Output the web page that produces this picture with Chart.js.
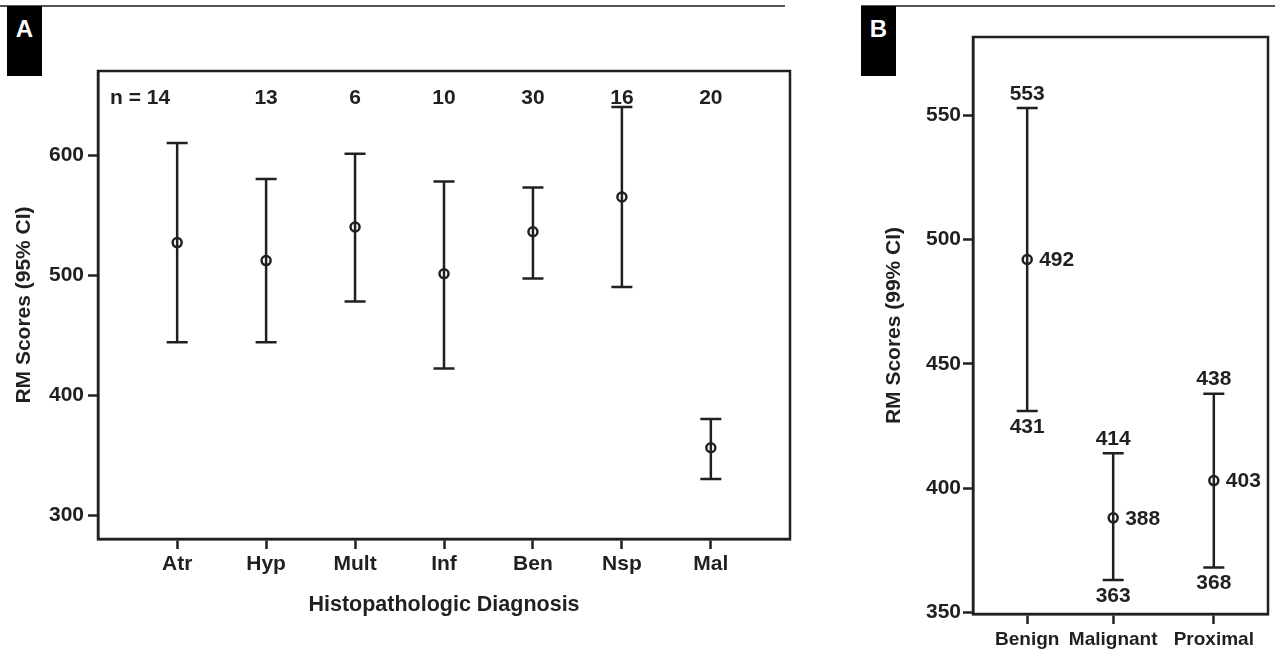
<!DOCTYPE html>
<html>
<head>
<meta charset="utf-8">
<script src="https://cdn.jsdelivr.net/npm/chart.js@4.4.1/dist/chart.umd.min.js"></script>
<style>
  body { margin: 0; background: #fff; width: 1275px; height: 652px; position: relative; overflow: hidden; font-family: "Liberation Sans", Arial, sans-serif; }
  .rule { position: absolute; top: 5px; height: 2px; background: #555; }
  .tag { position: absolute; top: 6px; width: 35px; height: 70px; background: #000; color: #fff; font-weight: bold; font-size: 24px; text-align: center; line-height: 45px; }
  canvas { position: absolute; top: 0; }
</style>
</head>
<body>
<div class="rule" style="left:0;width:785px"></div>
<div class="rule" style="left:861px;width:414px"></div>
<div class="tag" style="left:7px">A</div>
<div class="tag" style="left:861px">B</div>
<canvas id="chartA" width="800" height="652" style="left:0"></canvas>
<canvas id="chartB" width="455" height="652" style="left:820px"></canvas>
<script>
// Panel A: RM scores by histopathologic diagnosis (95% CI)
const aCategories = ['Atr', 'Hyp', 'Mult', 'Inf', 'Ben', 'Nsp', 'Mal'];
const aCounts = [14, 13, 6, 10, 30, 16, 20];
const aMeans = [527, 512, 540, 501, 536, 565, 356];
const aLower = [444, 444, 478, 422, 497, 490, 330];
const aUpper = [610, 580, 601, 578, 573, 640, 380];
const aYTicks = [300, 400, 500, 600];

// Panel B: RM scores by group (99% CI)
const bCategories = ['Benign', 'Malignant', 'Proximal'];
const bPositions = [0, 1, 2.17];
const bMeans = [492, 388, 403];
const bLower = [431, 363, 368];
const bUpper = [553, 414, 438];
const bYTicks = [350, 400, 450, 500, 550];

const ink = '#231f20';
const family = '"Liberation Sans", Arial, sans-serif';
const font = { family, size: 21, weight: 'bold' };
const titleFontA = { family, size: 21.5, weight: 'bold' };
const catFontB = { family, size: 19, weight: 'bold' };

// vertical CI lines with caps, drawn under the mean circles
const errorBars = {
    id: 'errorBars',
    beforeDatasetsDraw(chart) {
        const { ctx, scales: { x, y } } = chart;
        const cap = 10.5;
        ctx.save();
        ctx.strokeStyle = ink;
        ctx.lineWidth = 2.5;
        chart.data.datasets[0].data.forEach(p => {
            const px = x.getPixelForValue(p.x);
            const top = y.getPixelForValue(p.yMax);
            const bot = y.getPixelForValue(p.yMin);
            ctx.beginPath();
            ctx.moveTo(px, top); ctx.lineTo(px, bot);
            ctx.moveTo(px - cap, top); ctx.lineTo(px + cap, top);
            ctx.moveTo(px - cap, bot); ctx.lineTo(px + cap, bot);
            ctx.stroke();
        });
        ctx.restore();
    }
};

// box round the plot area
const frame = {
    id: 'frame',
    afterDraw(chart) {
        const { ctx, chartArea: a } = chart;
        ctx.save();
        ctx.strokeStyle = ink;
        ctx.lineWidth = 2.5;
        ctx.strokeRect(a.left, a.top, a.right - a.left, a.bottom - a.top);
        ctx.restore();
    }
};

// n = ... row at the top of panel A
const countLabels = {
    id: 'countLabels',
    afterDatasetsDraw(chart) {
        const { ctx, chartArea, scales: { x } } = chart;
        ctx.save();
        ctx.fillStyle = ink;
        ctx.font = 'bold 21px ' + family;
        ctx.textBaseline = 'middle';
        aCounts.forEach((n, i) => {
            const px = x.getPixelForValue(i);
            if (i === 0) {
                ctx.textAlign = 'right';
                ctx.fillText('n = ' + n, px - 7, chartArea.top + 27);
            } else {
                ctx.textAlign = 'center';
                ctx.fillText(String(n), px, chartArea.top + 27);
            }
        });
        ctx.restore();
    }
};

// value labels of panel B
const valueLabels = {
    id: 'valueLabels',
    afterDatasetsDraw(chart) {
        const { ctx, scales: { x, y } } = chart;
        ctx.save();
        ctx.fillStyle = ink;
        ctx.font = 'bold 21px ' + family;
        ctx.textBaseline = 'middle';
        bPositions.forEach((pos, i) => {
            const px = x.getPixelForValue(pos);
            ctx.textAlign = 'center';
            ctx.fillText(String(bUpper[i]), px, y.getPixelForValue(bUpper[i]) - 14);
            ctx.fillText(String(bLower[i]), px, y.getPixelForValue(bLower[i]) + 16);
            ctx.textAlign = 'left';
            ctx.fillText(String(bMeans[i]), px + 12, y.getPixelForValue(bMeans[i]) + 1);
        });
        ctx.restore();
    }
};

const tickGrid = { drawOnChartArea: false, drawTicks: true, tickLength: 10, tickWidth: 2.5, tickColor: ink };
const axisBorder = { display: true, color: ink, width: 2.5 };

const meanDataset = (points) => ({
    data: points,
    showLine: false,
    pointRadius: 4.5,
    pointHoverRadius: 4.5,
    pointBorderWidth: 2.5,
    pointBorderColor: ink,
    pointBackgroundColor: 'rgba(0,0,0,0)',
    clip: false
});

new Chart(document.getElementById('chartA'), {
    type: 'scatter',
    data: {
        datasets: [meanDataset(aMeans.map((m, i) => ({ x: i, y: m, yMin: aLower[i], yMax: aUpper[i] })))]
    },
    options: {
        responsive: false,
        animation: false,
        events: [],
        layout: { padding: { left: 0, top: 71, right: 10, bottom: 0 } },
        plugins: { legend: { display: false }, tooltip: { enabled: false } },
        scales: {
            x: {
                type: 'linear',
                min: -0.89,
                max: 6.89,
                afterBuildTicks: scale => { scale.ticks = aCategories.map((c, i) => ({ value: i })); },
                afterFit: scale => { scale.height = 113; },
                ticks: { font, color: ink, padding: 3, autoSkip: false, maxRotation: 0, callback: (v, i) => aCategories[i] },
                grid: tickGrid,
                border: axisBorder,
                title: { display: true, text: 'Histopathologic Diagnosis', font: titleFontA, color: ink, padding: { top: 0, bottom: 34 } }
            },
            y: {
                min: 280,
                max: 670,
                afterBuildTicks: scale => { scale.ticks = aYTicks.map(v => ({ value: v })); },
                afterFit: scale => { scale.width = 98; },
                ticks: { font, color: ink, padding: 4 },
                grid: tickGrid,
                border: axisBorder,
                title: { display: true, text: 'RM Scores (95% CI)', font, color: ink, padding: { top: 11.4, bottom: 0 } }
            }
        }
    },
    plugins: [errorBars, frame, countLabels]
});

new Chart(document.getElementById('chartB'), {
    type: 'scatter',
    data: {
        datasets: [meanDataset(bMeans.map((m, i) => ({ x: bPositions[i], y: m, yMin: bLower[i], yMax: bUpper[i] })))]
    },
    options: {
        responsive: false,
        animation: false,
        events: [],
        layout: { padding: { left: 0, top: 37, right: 2, bottom: 0 } },
        plugins: { legend: { display: false }, tooltip: { enabled: false } },
        scales: {
            x: {
                type: 'linear',
                min: -0.63,
                max: 2.80,
                afterBuildTicks: scale => { scale.ticks = bPositions.map(v => ({ value: v })); },
                afterFit: scale => { scale.height = 38; },
                ticks: { font: catFontB, color: ink, padding: 4, autoSkip: false, maxRotation: 0, callback: (v, i) => bCategories[i] },
                grid: tickGrid,
                border: axisBorder
            },
            y: {
                min: 349.3,
                max: 581.6,
                afterBuildTicks: scale => { scale.ticks = bYTicks.map(v => ({ value: v })); },
                afterFit: scale => { scale.width = 153; },
                ticks: { font, color: ink, padding: 2 },
                grid: tickGrid,
                border: axisBorder,
                title: { display: true, text: 'RM Scores (99% CI)', font, color: ink, padding: { top: 61.4, bottom: 0 } }
            }
        }
    },
    plugins: [errorBars, frame, valueLabels]
});
</script>
</body>
</html>
